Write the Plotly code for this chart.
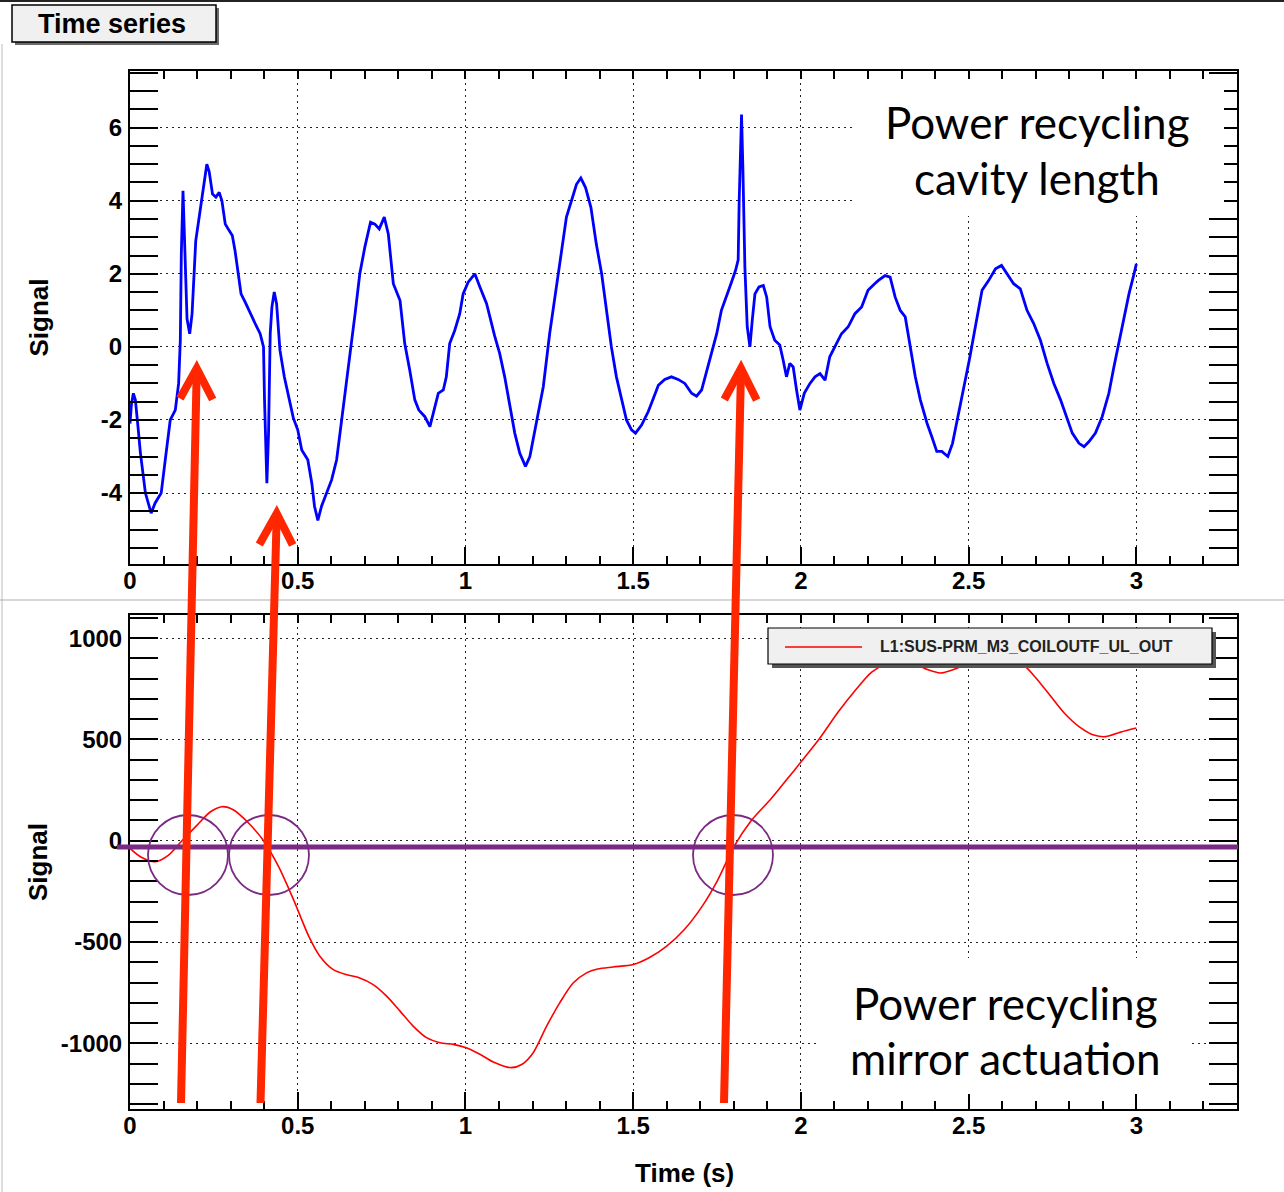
import plotly.graph_objects as go

# ---------------------------------------------------------------------------
# Power recycling cavity length (top panel), time in s
pr_len_t = [
    0.000, 0.004, 0.010, 0.016, 0.024, 0.031, 0.046, 0.063, 0.075, 0.093,
    0.105, 0.120, 0.135, 0.145, 0.150, 0.153, 0.158, 0.163, 0.170, 0.178,
    0.185, 0.196, 0.209, 0.221, 0.229, 0.236, 0.246, 0.256, 0.266, 0.274,
    0.284, 0.296, 0.305, 0.313, 0.323, 0.331, 0.343, 0.358, 0.373, 0.388,
    0.398, 0.401, 0.405, 0.408, 0.413, 0.418, 0.423, 0.430, 0.437, 0.447,
    0.460, 0.474, 0.487, 0.500, 0.512, 0.530, 0.542, 0.550, 0.560, 0.571,
    0.586, 0.601, 0.616, 0.629, 0.641, 0.656, 0.671, 0.685, 0.700, 0.717,
    0.730, 0.743, 0.758, 0.770, 0.785, 0.805, 0.819, 0.834, 0.849, 0.861,
    0.879, 0.894, 0.909, 0.919, 0.934, 0.943, 0.953, 0.968, 0.983, 0.993,
    1.008, 1.028, 1.043, 1.063, 1.087, 1.102, 1.117, 1.132, 1.147, 1.162,
    1.179, 1.192, 1.212, 1.232, 1.251, 1.271, 1.286, 1.301, 1.316, 1.331,
    1.344, 1.358, 1.374, 1.390, 1.406, 1.420, 1.435, 1.450, 1.465, 1.480,
    1.495, 1.507, 1.525, 1.545, 1.560, 1.575, 1.594, 1.614, 1.634, 1.654,
    1.674, 1.689, 1.704, 1.719, 1.734, 1.749, 1.763, 1.778, 1.793, 1.805,
    1.813, 1.816, 1.820, 1.823, 1.827, 1.833, 1.840, 1.848, 1.855, 1.863,
    1.875, 1.888, 1.898, 1.908, 1.922, 1.937, 1.947, 1.957, 1.967, 1.977,
    1.987, 1.997, 2.010, 2.027, 2.042, 2.057, 2.072, 2.086, 2.101, 2.121,
    2.141, 2.161, 2.181, 2.200, 2.220, 2.231, 2.251, 2.266, 2.281, 2.296,
    2.311, 2.326, 2.341, 2.356, 2.376, 2.390, 2.405, 2.420, 2.438, 2.452,
    2.468, 2.485, 2.502, 2.520, 2.540, 2.560, 2.580, 2.598, 2.615, 2.634,
    2.654, 2.674, 2.694, 2.714, 2.734, 2.754, 2.774, 2.794, 2.809, 2.829,
    2.844, 2.859, 2.878, 2.898, 2.918, 2.933, 2.948, 2.963, 2.978, 2.993,
    3.000,
]
pr_len_v = [
    -2.10, -1.60, -1.27, -1.45, -2.20, -2.90, -4.00, -4.55, -4.27, -4.00,
    -3.10, -2.00, -1.73, -1.00, 0.18, 2.55, 4.27, 2.55, 0.77, 0.36,
    0.90, 2.90, 3.70, 4.45, 5.00, 4.80, 4.18, 4.10, 4.23, 4.00,
    3.36, 3.18, 3.05, 2.64, 2.00, 1.45, 1.23, 0.91, 0.64, 0.36,
    0.00, -1.45, -3.27, -3.73, -2.36, 0.36, 1.09, 1.50, 1.18, -0.09,
    -0.82, -1.45, -1.95, -2.27, -2.82, -3.09, -3.73, -4.36, -4.75, -4.36,
    -4.00, -3.64, -3.09, -2.18, -1.27, -0.18, 0.91, 2.00, 2.73, 3.41,
    3.36, 3.23, 3.55, 3.09, 1.73, 1.27, 0.09, -0.64, -1.45, -1.73,
    -1.91, -2.18, -1.64, -1.27, -1.18, -0.82, 0.09, 0.45, 0.91, 1.45,
    1.77, 2.00, 1.64, 1.18, 0.30, -0.18, -0.82, -1.64, -2.36, -2.91,
    -3.27, -3.00, -2.00, -1.09, 0.36, 1.64, 2.73, 3.55, 4.00, 4.45,
    4.62, 4.36, 3.82, 2.82, 2.00, 1.09, 0.00, -0.82, -1.45, -2.00,
    -2.27, -2.36, -2.14, -1.77, -1.41, -1.05, -0.89, -0.82, -0.89, -1.00,
    -1.27, -1.35, -1.18, -0.64, -0.18, 0.36, 1.00, 1.36, 1.77, 2.09,
    2.38, 4.00, 5.82, 6.36, 4.90, 2.18, 0.55, 0.00, 0.73, 1.45,
    1.64, 1.68, 1.36, 0.55, 0.18, 0.05, -0.36, -0.82, -0.45, -0.55,
    -1.18, -1.73, -1.27, -1.00, -0.82, -0.73, -0.91, -0.27, 0.00, 0.36,
    0.55, 0.91, 1.09, 1.55, 1.73, 1.82, 1.95, 1.91, 1.36, 1.00,
    0.82, 0.00, -0.82, -1.45, -2.09, -2.45, -2.86, -2.86, -3.00, -2.64,
    -1.91, -1.18, -0.36, 0.55, 1.55, 1.82, 2.14, 2.23, 2.00, 1.73,
    1.59, 1.00, 0.64, 0.18, -0.45, -1.00, -1.45, -2.00, -2.36, -2.64,
    -2.73, -2.59, -2.36, -1.91, -1.27, -0.55, 0.09, 0.82, 1.45, 2.00,
    2.27,
]

# L1:SUS-PRM_M3_COILOUTF_UL_OUT (bottom panel)
prm_channel = "L1:SUS-PRM_M3_COILOUTF_UL_OUT"
prm_t = [
    0.000, 0.031, 0.075, 0.115, 0.155, 0.200, 0.240, 0.274, 0.309, 0.354,
    0.398, 0.443, 0.488, 0.533, 0.566, 0.606, 0.646, 0.685, 0.725, 0.765,
    0.805, 0.844, 0.884, 0.924, 0.964, 1.000, 1.043, 1.083, 1.136, 1.169,
    1.202, 1.242, 1.281, 1.321, 1.361, 1.394, 1.440, 1.500, 1.546, 1.599,
    1.652, 1.705, 1.752, 1.800, 1.850, 1.911, 1.956, 2.000, 2.055, 2.111,
    2.166, 2.211, 2.260, 2.300, 2.344, 2.377, 2.416, 2.455, 2.488, 2.550,
    2.610, 2.665, 2.698, 2.743, 2.787, 2.831, 2.876, 2.909, 2.953, 3.000,
]
prm_v = [
    -38, -79, -104, -71, 0, 77, 143, 168, 152, 86,
    0, -128, -293, -472, -570, -636, -661, -677, -710, -767,
    -841, -915, -972, -997, -1005, -1021, -1054, -1092, -1120, -1103,
    -1046, -915, -800, -702, -652, -633, -623, -611, -579, -521,
    -439, -325, -194, -30, 95, 207, 298, 388, 503, 635,
    750, 832, 880, 900, 870, 845, 828, 845, 868, 900,
    895, 865, 808, 717, 627, 561, 520, 514, 536, 556,
]

# Axis ticks and labels
x_major_step = 0.5
x_minor_step = 0.1
top_y_ticks = [-4, -2, 0, 2, 4, 6]
top_y_text = ["-4", "-2", "0", "2", "4", "6"]
top_y_minor_step = 0.5
bot_y_ticks = [-1000, -500, 0, 500, 1000]
bot_y_text = ["-1000", "-500", "0", "500", "1000"]
bot_y_minor_step = 100

# ---------------------------------------------------------------------------
W, H = 1284, 1192
ML, MR, MT, MB = 130, 47, 71, 83
PW, PH = W - ML - MR, H - MT - MB


def px(x):
    """Canvas pixel column -> paper x."""
    return (x - ML) / PW


def py(y):
    """Canvas pixel row -> paper y."""
    return (H - MB - y) / PH


TICK_FONT = dict(family="Liberation Sans, Arial, sans-serif", size=24,
                 color="black", weight="bold")
GRID = dict(showgrid=True, gridcolor="#222222", gridwidth=1.2,
            griddash="2px,4px")

fig = go.Figure()

fig.add_trace(go.Scatter(x=pr_len_t, y=pr_len_v, mode="lines",
                         line=dict(color="#0000ff", width=2.8),
                         name="PRCL", showlegend=False,
                         xaxis="x", yaxis="y"))
fig.add_trace(go.Scatter(x=prm_t, y=prm_v, mode="lines",
                         line=dict(color="#ff0000", width=1.6, shape="spline",
                                   smoothing=0.8),
                         name=prm_channel, showlegend=False,
                         xaxis="x2", yaxis="y2"))
# empty traces so the top-edge tick axes get drawn
for xa, ya in (("x3", "y"), ("x4", "y2")):
    fig.add_trace(go.Scatter(x=[None], y=[None], xaxis=xa, yaxis=ya,
                             showlegend=False, hoverinfo="skip"))

top_dom = [py(564.3), 1.0]
bot_dom = [0.0, py(615)]


def x_axis(anchor, **kw):
    d = dict(anchor=anchor, domain=[0, 1], range=[0, 3.3],
             tickmode="linear", tick0=0, dtick=x_major_step,
             ticks="inside", ticklen=17, tickwidth=1.5, tickcolor="black",
             minor=dict(tickmode="linear", tick0=0, dtick=x_minor_step,
                        ticks="inside", ticklen=8, tickwidth=1.5,
                        tickcolor="black", showgrid=False),
             showline=True, linewidth=2, linecolor="black", mirror=True,
             zeroline=False, tickfont=TICK_FONT, ticklabelstandoff=-6)
    d.update(GRID)
    d.update(kw)
    return d


def x_top_ticks(overlay, anchor):
    return dict(overlaying=overlay, anchor=anchor, side="top", range=[0, 3.3],
                tickmode="linear", tick0=0, dtick=x_major_step,
                ticks="inside", ticklen=8, tickwidth=1.5, tickcolor="black",
                minor=dict(tickmode="linear", tick0=0, dtick=x_minor_step,
                           ticks="inside", ticklen=8, tickwidth=1.5,
                           tickcolor="black"),
                showticklabels=False, showgrid=False, showline=False,
                zeroline=False)


def y_axis(anchor, domain, rng, vals, text, minor_step):
    d = dict(anchor=anchor, domain=domain, range=rng,
             tickmode="array", tickvals=vals, ticktext=text,
             ticks="inside", ticklen=28, tickwidth=1.5, tickcolor="black",
             minor=dict(tickmode="linear", tick0=0, dtick=minor_step,
                        ticks="inside", ticklen=14, tickwidth=1.5,
                        tickcolor="black", showgrid=False),
             showline=True, linewidth=2, linecolor="black", mirror="allticks",
             zeroline=False, tickfont=TICK_FONT, ticklabelstandoff=1)
    d.update(GRID)
    return d


fig.update_layout(
    width=W, height=H,
    margin=dict(l=ML, r=MR, t=MT, b=MB),
    paper_bgcolor="white", plot_bgcolor="white",
    showlegend=False,
    xaxis=x_axis("y"),
    xaxis2=x_axis("y2"),
    xaxis3=x_top_ticks("x", "y"),
    xaxis4=x_top_ticks("x2", "y2"),
    yaxis=y_axis("x", top_dom, [-5.95, 7.55], top_y_ticks, top_y_text,
                 top_y_minor_step),
    yaxis2=y_axis("x2", bot_dom, [-1324, 1114], bot_y_ticks, bot_y_text,
                  bot_y_minor_step),
)

shapes = []


def rect(x0, y0, x1, y1, fill, line_color=None, line_width=0):
    return dict(type="rect", xref="paper", yref="paper",
                x0=px(x0), x1=px(x1), y0=py(y1), y1=py(y0),
                fillcolor=fill, layer="above",
                line=dict(color=line_color or fill, width=line_width))


def seg(x0, y0, x1, y1, color, width):
    return dict(type="line", xref="paper", yref="paper",
                x0=px(x0), y0=py(y0), x1=px(x1), y1=py(y1),
                layer="above", line=dict(color=color, width=width))


# canvas decorations: top border, left edge, pad separator
shapes.append(seg(0, 1, W, 1, "#222222", 2))
shapes.append(seg(2, 44, 2, H, "#bbbbbb", 1))
shapes.append(seg(0, 600, W, 600, "#b0b0b0", 1.2))

# "Time series" tab
shapes.append(rect(15, 8, 219, 45, "#6a6a6a"))
shapes.append(rect(12, 5, 216, 42, "#f0f0f0", "black", 1.5))

# white text boxes laid over the frames
shapes.append(rect(853, 82, 1224, 216, "white"))
shapes.append(rect(820, 958, 1189, 1094, "white"))

# legend box for the bottom panel
shapes.append(rect(772, 632, 1216, 668, "#555555"))
shapes.append(rect(768, 628, 1212, 664, "#f0f0f0", "black", 1.2))
shapes.append(seg(785, 647, 862, 647, "#ff0000", 1.6))

# purple reference line at zero actuation and highlight circles
PURPLE = "#7a2a82"
shapes.append(seg(117, 847, 1238, 847, PURPLE, 5))
for cx, cy in ((188, 855), (269, 855), (733, 855)):
    shapes.append(dict(type="circle", xref="paper", yref="paper",
                       x0=px(cx - 40), x1=px(cx + 40),
                       y0=py(cy + 40), y1=py(cy - 40),
                       layer="above", line=dict(color=PURPLE, width=1.8)))

# red arrows from actuation crossings up to the glitches
ARROW = "#ff2600"
arrows = [
    ((181, 1103), (196.7, 368.5), (180, 398.5), (212.7, 399.5)),
    ((260.5, 1103), (276.7, 513.5), (259.3, 544.5), (292.7, 545)),
    ((724, 1103), (741, 368.5), (724.3, 399.5), (756.7, 400)),
]
for tail, tip, left, right in arrows:
    shapes.append(seg(tail[0], tail[1], tip[0], tip[1] + 3, ARROW, 8))
    path = (f"M {px(left[0])},{py(left[1])} L {px(tip[0])},{py(tip[1])} "
            f"L {px(right[0])},{py(right[1])}")
    shapes.append(dict(type="path", xref="paper", yref="paper", path=path,
                       layer="above", line=dict(color=ARROW, width=8)))

fig.update_layout(shapes=shapes)

LABEL_FONT = dict(family="Liberation Sans, Arial, sans-serif", size=26,
                  color="black", weight="bold")
NOTE_FONT = dict(family="Lato, Open Sans, sans-serif", size=44, color="black")


def note(text, x, y, font, **kw):
    d = dict(text=text, x=px(x), y=py(y), xref="paper", yref="paper",
             showarrow=False, font=font, xanchor="center", yanchor="middle")
    d.update(kw)
    return d


annotations = [
    note("Time series", 112, 24, dict(LABEL_FONT, size=27)),
    note("Signal", 38, 317.5, LABEL_FONT, textangle=-90),
    note("Signal", 38, 862, LABEL_FONT, textangle=-90),
    note("Time (s)", 684, 1173, LABEL_FONT),
    note(prm_channel, 878, 647,
         dict(family="Liberation Sans, Arial, sans-serif", size=16,
              color="#222222", weight="bold"), xanchor="left"),
    note("Power recycling", 1037, 122, NOTE_FONT),
    note("cavity length", 1037, 178, NOTE_FONT),
    note("Power recycling", 1005, 1003, NOTE_FONT),
    note("mirror actuation", 1005, 1058, NOTE_FONT),
]
fig.update_layout(annotations=annotations)

fig.write_html("out.html")
